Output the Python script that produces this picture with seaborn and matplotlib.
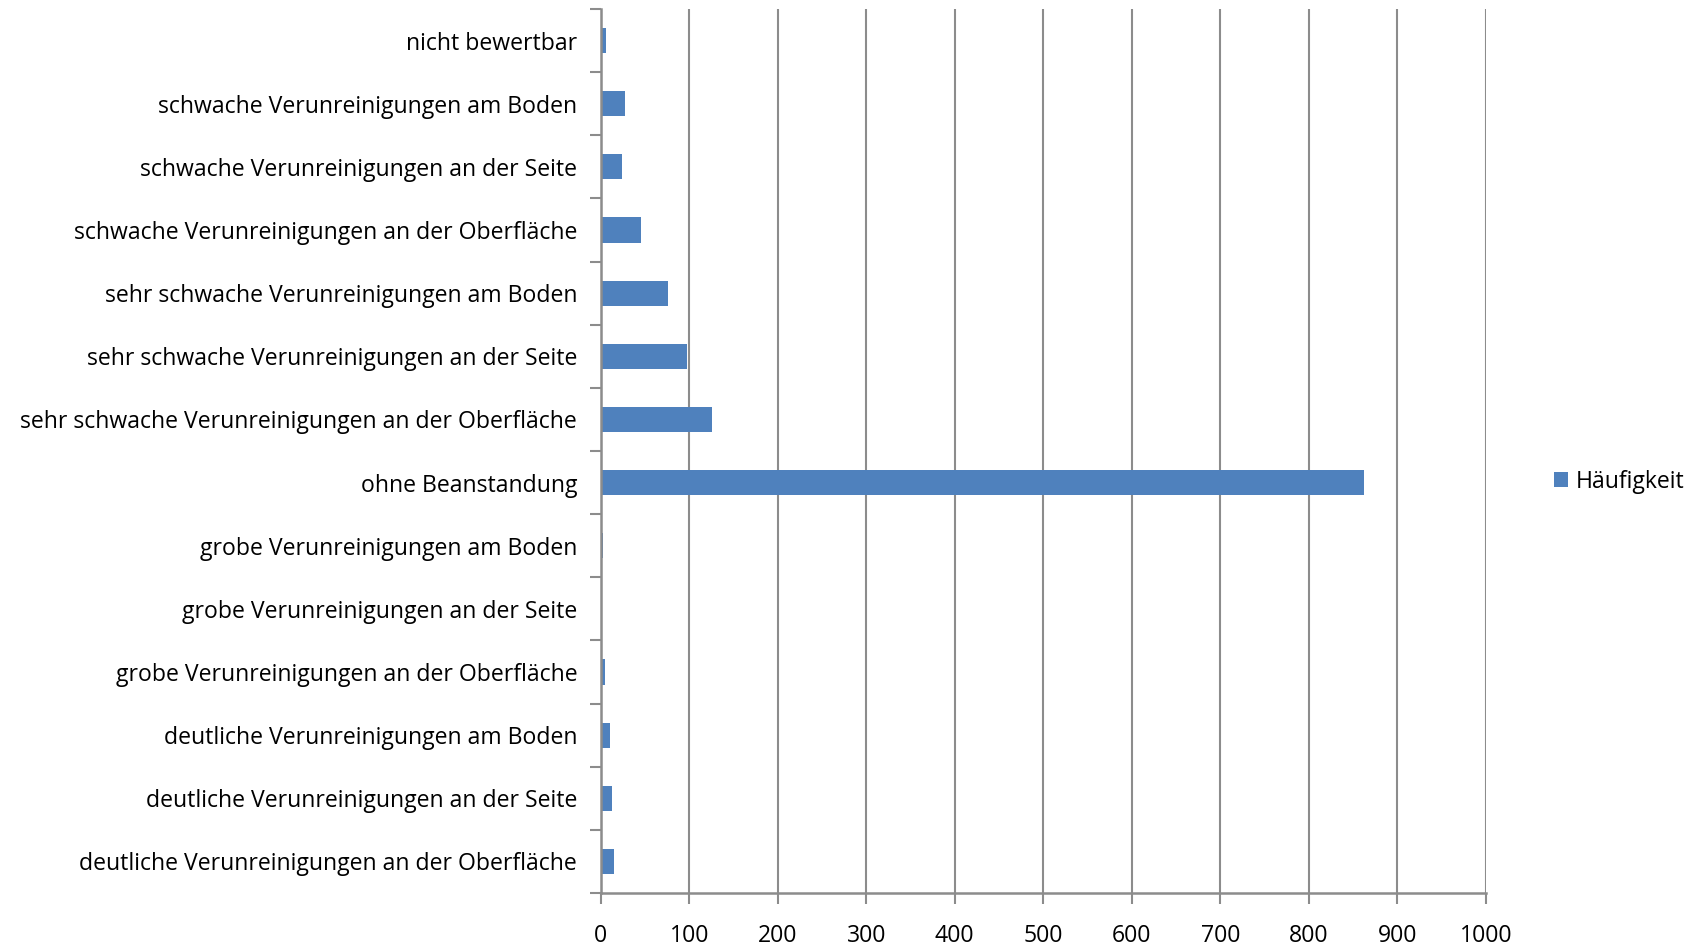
import seaborn as sns
import matplotlib.pyplot as plt
import pandas as pd
import numpy as np

# Kategorien (von oben nach unten) und Häufigkeiten
categories = [
    "nicht bewertbar",
    "schwache Verunreinigungen am Boden",
    "schwache Verunreinigungen an der Seite",
    "schwache Verunreinigungen an der Oberfläche",
    "sehr schwache Verunreinigungen am Boden",
    "sehr schwache Verunreinigungen an der Seite",
    "sehr schwache Verunreinigungen an der Oberfläche",
    "ohne Beanstandung",
    "grobe Verunreinigungen am Boden",
    "grobe Verunreinigungen an der Seite",
    "grobe Verunreinigungen an der Oberfläche",
    "deutliche Verunreinigungen am Boden",
    "deutliche Verunreinigungen an der Seite",
    "deutliche Verunreinigungen an der Oberfläche",
]
counts = [6, 27, 24, 45, 76, 97, 126, 863, 3, 0.5, 5, 11, 13, 15]
x_ticks = [0, 100, 200, 300, 400, 500, 600, 700, 800, 900, 1000]

df = pd.DataFrame({"Kategorie": categories, "Häufigkeit": counts})

sns.set_style("white")
plt.rcParams["font.family"] = ["Open Sans", "DejaVu Sans"]

fig = plt.figure(figsize=(16.97, 9.48), dpi=100)
ax = fig.add_axes([0.354, 0.058, 0.5215, 0.9325])

grid_col = "#8c8c8c"
ax.set_axisbelow(True)
ax.xaxis.grid(True, color=grid_col, linewidth=1.5)

sns.barplot(data=df, y="Kategorie", x="Häufigkeit", orient="h",
            color="#4F81BD", saturation=1, width=0.4, ax=ax,
            label="Häufigkeit", linewidth=0)

ax.set_xlim(0, 1000)
ax.set_ylim(len(categories) - 0.5, -0.5)
ax.set_xticks(x_ticks)
ax.set_xlabel("")
ax.set_ylabel("")

# Excel-artige Teilstriche zwischen den Kategorien
ax.set_yticks(np.arange(-0.5, len(categories), 1), minor=True)
ax.tick_params(axis="y", which="major", left=False, length=0, pad=17,
               labelsize=16.6, labelcolor="black")
ax.tick_params(axis="y", which="minor", left=True, length=8, width=1.5,
               color=grid_col, direction="out")
ax.tick_params(axis="x", which="major", bottom=True, length=8, width=1.5,
               color=grid_col, direction="out", pad=14, labelsize=16.6,
               labelcolor="black")

for s in ["top", "right"]:
    ax.spines[s].set_visible(False)
for s in ["left", "bottom"]:
    ax.spines[s].set_color(grid_col)
    ax.spines[s].set_linewidth(1.8)

if ax.legend_:
    ax.legend_.remove()
handles, labels = ax.get_legend_handles_labels()
fig.legend(handles[:1], ["Häufigkeit"], loc="center left", bbox_to_anchor=(0.9035, 0.492),
           frameon=False, fontsize=16.6, handlelength=0.6, handleheight=0.6,
           handletextpad=0.35, labelcolor="black")

fig.savefig("out.png", dpi=100)
